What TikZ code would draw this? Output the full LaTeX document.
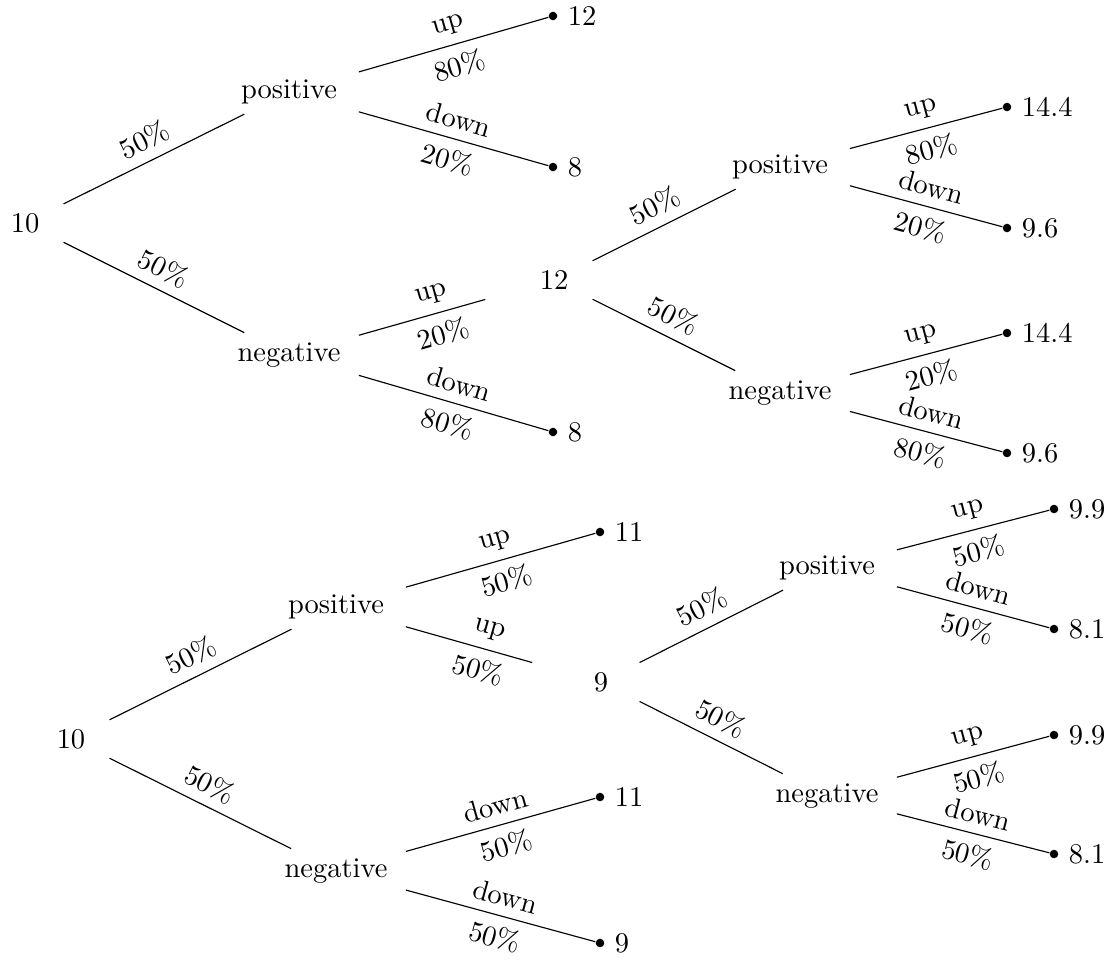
\documentclass[tikz,border=0pt]{standalone}
\usepackage{tikz}
\usetikzlibrary{positioning}

\begin{document}
\begin{tikzpicture}[
      x=0.351pt, y=-0.351pt,
      bag/.style={text width=4.2em, text centered},
      rootbag/.style={text width=2em, text centered},
      leaf/.style={circle, fill, minimum width=3pt, inner sep=0pt},
      joined/.style={shorten >=11pt}
    ]
      \useasboundingbox (0,0) rectangle (1119,962);

      % first tree
      \node[rootbag] (troot) at (25,223) {10};
      \node[bag] (tpos) at (289,92) {positive};
      \node[bag] (tneg) at (289,355) {negative};
      \node[leaf, label=right:12] (tposup) at (553,16) {};
      \node[leaf, label=right:8] (tposdown) at (553,167) {};
      \node[leaf, label=right:8] (tnegdown) at (553,432) {};

      \node[rootbag] (sroot) at (554,280) {12};
      \node[bag] (spos) at (780,167) {positive};
      \node[bag] (sneg) at (780,393) {negative};
      \node[leaf, label=right:14.4] (sposup) at (1007,107) {};
      \node[leaf, label=right:9.6] (sposdown) at (1007,228) {};
      \node[leaf, label=right:14.4] (snegup) at (1007,333) {};
      \node[leaf, label=right:9.6] (snegdown) at (1007,453) {};

      \draw (troot) -- node[above, sloped]{50\%} (tpos);
      \draw (troot) -- node[above, sloped]{50\%} (tneg);
      \draw (tpos) -- node[above, sloped]{up} node[below, sloped]{80\%} (tposup);
      \draw (tpos) -- node[above, sloped]{down} node[below, sloped]{20\%} (tposdown);
      \draw[joined] (tneg) -- node[above, sloped]{up} node[below, sloped]{20\%} (sroot);
      \draw (tneg) -- node[above, sloped]{down} node[below, sloped]{80\%} (tnegdown);

      \draw (sroot) -- node[above, sloped]{50\%} (spos);
      \draw (sroot) -- node[above, sloped]{50\%} (sneg);
      \draw (spos) -- node[above, sloped]{up} node[below, sloped]{80\%} (sposup);
      \draw (spos) -- node[above, sloped]{down} node[below, sloped]{20\%} (sposdown);
      \draw (sneg) -- node[above, sloped]{up} node[below, sloped]{20\%} (snegup);
      \draw (sneg) -- node[above, sloped]{down} node[below, sloped]{80\%} (snegdown);

      % second tree
      \node[rootbag] (broot) at (71,739) {10};
      \node[bag] (bpos) at (336,607) {positive};
      \node[bag] (bneg) at (336,871) {negative};
      \node[leaf, label=right:11] (bposup) at (600,532) {};
      \node[leaf, label=right:11] (bnegup) at (600,797) {};
      \node[leaf, label=right:9] (bnegdown) at (600,943) {};

      \node[rootbag] (croot) at (601,682) {9};
      \node[bag] (cpos) at (827,568) {positive};
      \node[bag] (cneg) at (827,796) {negative};
      \node[leaf, label=right:9.9] (cposup) at (1054,509) {};
      \node[leaf, label=right:8.1] (cposdown) at (1054,629) {};
      \node[leaf, label=right:9.9] (cnegup) at (1054,735) {};
      \node[leaf, label=right:8.1] (cnegdown) at (1054,854) {};

      \draw (broot) -- node[above, sloped]{50\%} (bpos);
      \draw (broot) -- node[above, sloped]{50\%} (bneg);
      \draw (bpos) -- node[above, sloped]{up} node[below, sloped]{50\%} (bposup);
      \draw[joined] (bpos) -- node[above, sloped]{up} node[below, sloped]{50\%} (croot);
      \draw (bneg) -- node[above, sloped]{down} node[below, sloped]{50\%} (bnegup);
      \draw (bneg) -- node[above, sloped]{down} node[below, sloped]{50\%} (bnegdown);

      \draw (croot) -- node[above, sloped]{50\%} (cpos);
      \draw (croot) -- node[above, sloped]{50\%} (cneg);
      \draw (cpos) -- node[above, sloped]{up} node[below, sloped]{50\%} (cposup);
      \draw (cpos) -- node[above, sloped]{down} node[below, sloped]{50\%} (cposdown);
      \draw (cneg) -- node[above, sloped]{up} node[below, sloped]{50\%} (cnegup);
      \draw (cneg) -- node[above, sloped]{down} node[below, sloped]{50\%} (cnegdown);
    \end{tikzpicture}
\end{document}
